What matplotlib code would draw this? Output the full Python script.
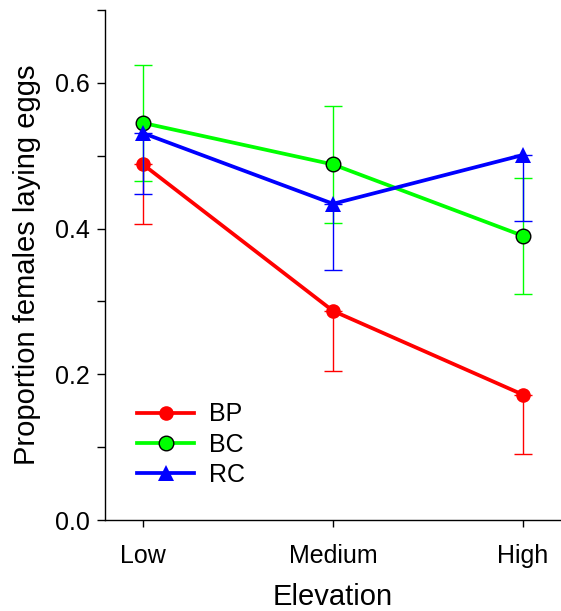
import numpy as np
import matplotlib
matplotlib.use("Agg")
import matplotlib.pyplot as plt
from matplotlib.ticker import MultipleLocator

plt.rcParams['font.family'] = ['Liberation Sans', 'DejaVu Sans']

elevations = ['Low', 'Medium', 'High']
bp = [0.488, 0.287, 0.172]
bp_err = [0.082, 0.082, 0.081]
bc = [0.545, 0.488, 0.390]
bc_err = [0.080, 0.080, 0.080]
rc = [0.531, 0.434, 0.501]
rc_err = [0.083, 0.091, 0.091]

x = np.arange(len(elevations))

fig = plt.figure(figsize=(5.61, 6.11), dpi=100)
ax = fig.add_axes([105 / 561, 1 - 520 / 611, 456 / 561, 510 / 611])

series = [
    ('BP', bp, bp_err, '#ff0000', 'o', 'none', 'lower'),
    ('BC', bc, bc_err, '#00ff00', 'o', 'black', 'both'),
    ('RC', rc, rc_err, '#0000ff', '^', 'none', 'lower'),
]

for i, (name, vals, err, col, mk, edge, side) in enumerate(series):
    err = np.array(err)
    if side == 'lower':
        yerr = [err, np.zeros_like(err)]
    else:
        yerr = [err, err]
    ax.errorbar(x, vals, yerr=yerr, fmt='none', ecolor=col, elinewidth=1.0,
                capsize=6.5, capthick=1.0, zorder=2 + i)
    ax.plot(x, vals, color=col, lw=2.7, marker=mk, markersize=10.5 if mk == 'o' else 11,
            markerfacecolor=col,
            markeredgecolor=edge if edge != 'none' else col,
            markeredgewidth=1.0 if edge != 'none' else 0.0,
            label=name, zorder=2 + i)

ax.set_xlim(-0.2, 2.2)
ax.set_ylim(0, 0.7)
ax.set_xticks(x)
ax.set_xticklabels(elevations)
ax.yaxis.set_minor_locator(MultipleLocator(0.1))
ax.set_yticks([0.0, 0.2, 0.4, 0.6])
ax.set_yticklabels(['0.0', '0.2', '0.4', '0.6'])

ax.spines['top'].set_visible(False)
ax.spines['right'].set_visible(False)
for s in ['left', 'bottom']:
    ax.spines[s].set_linewidth(1.0)

ax.tick_params(axis='y', which='both', direction='out', length=6, width=1.0, labelsize=18, pad=5)
ax.tick_params(axis='x', which='both', direction='out', length=5, width=1.0, labelsize=18, pad=12)

ax.set_xlabel('Elevation', fontsize=21, labelpad=11)
ax.set_ylabel('Proportion females laying eggs', fontsize=21, labelpad=10)

ax.legend(loc='lower left', bbox_to_anchor=(0.07, 0.065), frameon=False, fontsize=18,
          handlelength=2.3, handletextpad=0.6, labelspacing=0.25,
          borderpad=0, borderaxespad=0)

fig.savefig('out.png', dpi=100)
